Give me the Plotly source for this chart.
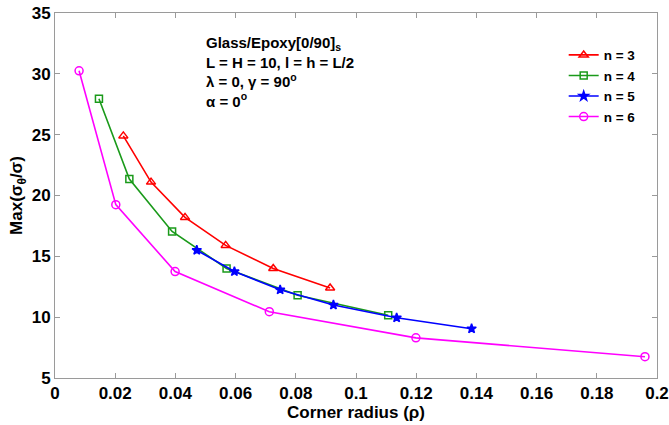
import plotly.graph_objects as go

x_n3 = [0.0227, 0.0319, 0.0432, 0.0567, 0.0725, 0.0914]
y_n3 = [24.9, 21.1, 18.2, 15.9, 14.0, 12.4]
x_n4 = [0.0146, 0.0247, 0.0389, 0.0570, 0.0806, 0.1107]
y_n4 = [27.95, 21.35, 17.05, 14.0, 11.8, 10.15]
x_n5 = [0.0471, 0.0596, 0.0748, 0.0925, 0.1135, 0.1384]
y_n5 = [15.5, 13.75, 12.25, 11.0, 9.95, 9.05]
x_n6 = [0.0080, 0.0202, 0.0399, 0.0712, 0.1199, 0.1960]
y_n6 = [30.25, 19.25, 13.75, 10.45, 8.3, 6.75]

series = [
    ("n = 3", x_n3, y_n3, "#ff0000", "triangle-up-open", 8),
    ("n = 4", x_n4, y_n4, "#1a9a1a", "square-open", 7),
    ("n = 5", x_n5, y_n5, "#0000ff", "star", 7),
    ("n = 6", x_n6, y_n6, "#ff00ff", "circle-open", 8),
]

FONT = "Liberation Sans, Arial, sans-serif"

fig = go.Figure()
for name, xs, ys, col, sym, sz in series:
    fig.add_trace(go.Scatter(
        x=xs, y=ys, name=name, mode="lines+markers",
        line=dict(color=col, width=1.6),
        marker=dict(symbol=sym, size=sz, color=col,
                    line=dict(color=col, width=1.5)),
    ))

axis_common = dict(
    showline=True, linecolor="#9a9a9a", linewidth=1, mirror="ticks",
    ticks="inside", ticklen=5, tickcolor="#9a9a9a",
    showgrid=False, zeroline=False, automargin=False,
    tickfont=dict(family=FONT, size=17, color="black", weight="bold"),
)

fig.update_layout(
    width=669, height=425,
    margin=dict(l=55, r=12, t=13, b=47),
    plot_bgcolor="white", paper_bgcolor="white",
    xaxis=dict(range=[0, 0.2], dtick=0.02, tickformat="~g",
               title=dict(text="Corner radius (ρ)", standoff=2,
                          font=dict(family=FONT, size=17, color="black", weight="bold")),
               **axis_common),
    yaxis=dict(range=[5, 35], dtick=5,
               title=dict(text="Max(σ<sub>θ</sub>/σ)", standoff=4,
                          font=dict(family=FONT, size=17, color="black", weight="bold")),
               **axis_common),
    legend=dict(x=0.845, y=0.927, xanchor="left", yanchor="top",
                bgcolor="rgba(0,0,0,0)", tracegroupgap=0, itemwidth=30,
                font=dict(family=FONT, size=13.5, color="black", weight="bold")),
    showlegend=True,
)

fig.add_annotation(
    xref="paper", yref="paper", x=0.248, y=0.948, xanchor="left", yanchor="top",
    align="left", showarrow=False,
    text="Glass/Epoxy[0/90]<sub>s</sub><br>L = H = 10, l = h = L/2<br>λ = 0, γ = 90<sup>o</sup><br>α = 0<sup>o</sup>",
    font=dict(family=FONT, size=15, color="black", weight="bold"),
)

fig.write_html("out.html")
